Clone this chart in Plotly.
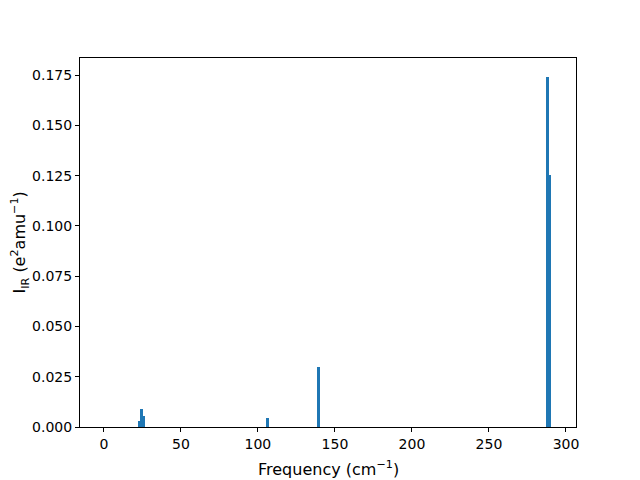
import plotly.graph_objects as go

freqs = [23.0, 24.3, 25.5, 106.5, 139.3, 288.2, 289.4]
intensities = [0.003, 0.009, 0.0055, 0.0045, 0.0298, 0.1742, 0.1252]
x_ticks = [0, 50, 100, 150, 200, 250, 300]
y_ticks = [0.0, 0.025, 0.05, 0.075, 0.1, 0.125, 0.15, 0.175]

BAR_W = 2.0
FONT = "DejaVu Sans"

fig = go.Figure()
fig.add_trace(go.Bar(x=freqs, y=intensities, width=BAR_W,
                     marker=dict(color="#1f77b4", line=dict(width=0))))

# page has an 8px body margin; compensate so plot area sits at 80..576 x 58..427
OFF = 8
W, H = 640 - OFF, 480 - OFF
L, R, T, B = 80 - OFF, 64, 58 - OFF, 53
pw, ph = W - L - R, H - T - B

fig.update_layout(
    width=W, height=H, margin=dict(l=L, r=R, t=T, b=B),
    plot_bgcolor="white", paper_bgcolor="white", showlegend=False,
    barmode="overlay", bargap=0,
    font=dict(family=FONT, size=14, color="black"),
)
axis_common = dict(showgrid=False, zeroline=False, showline=True, linecolor="black",
                   linewidth=1, mirror=True, ticks="outside", ticklen=4, tickwidth=1,
                   tickcolor="black", tickfont=dict(family=FONT, size=14, color="black"))
fig.update_xaxes(range=[-15.5, 306.5], tickvals=x_ticks, automargin=False, **axis_common)
fig.update_yaxes(range=[0, 0.1835], tickvals=y_ticks, tickformat=".3f", automargin=False, **axis_common)

fig.add_annotation(text="Frequency (cm<sup>−1</sup>)", xref="paper", yref="paper",
                   x=(328 - 80) / pw, y=(427 - 468) / ph, xanchor="center", yanchor="middle",
                   showarrow=False, font=dict(family=FONT, size=16, color="black"))
fig.add_annotation(text="I<sub>IR</sub> (e<sup>2</sup>amu<sup>−1</sup>)", xref="paper", yref="paper",
                   x=(20 - 80) / pw, y=0.5, xanchor="center", yanchor="middle", textangle=-90,
                   showarrow=False, font=dict(family=FONT, size=16, color="black"))

fig.write_html("out.html")
